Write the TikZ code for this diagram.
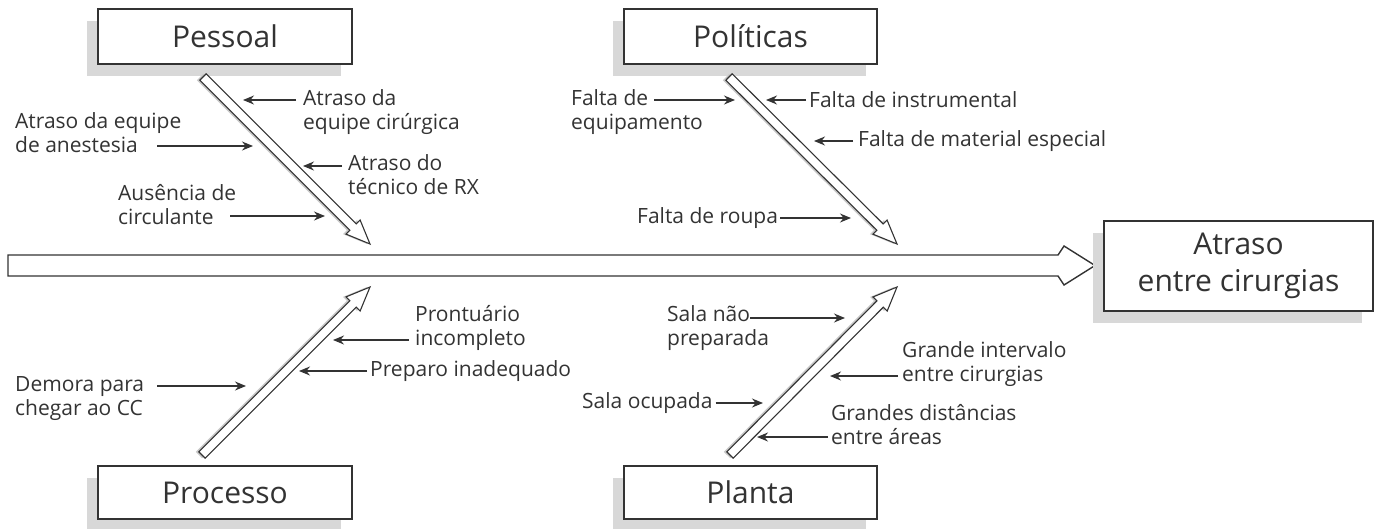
\documentclass[tikz,border=0pt]{standalone}
\usepackage{fontspec}
\setmainfont{Open Sans}
\usetikzlibrary{arrows.meta,calc,shadows}
\definecolor{ink}{HTML}{333333}
\definecolor{shade}{HTML}{D8D8D8}
\definecolor{boneshade}{HTML}{C8C8C8}
\newcommand{\bonearrow}[3]{%
  \coordinate (#1h) at ($(#3)!24pt!(#2)$);
  \coordinate (#1a) at ($(#2)!4.5pt!90:(#3)$);
  \coordinate (#1b) at ($(#1h)!4.5pt!90:(#3)$);
  \coordinate (#1c) at ($(#1h)!10pt!90:(#3)$);
  \coordinate (#1d) at ($(#1h)!10pt!-90:(#3)$);
  \coordinate (#1e) at ($(#1h)!4.5pt!-90:(#3)$);
  \coordinate (#1f) at ($(#2)!4.5pt!-90:(#3)$);
  \begin{scope}[transform canvas={xshift=-3pt}]
    \fill[boneshade] (#1a) -- (#1b) -- (#1c) -- (#3) -- (#1d) -- (#1e) -- (#1f) -- cycle;
  \end{scope}
  \draw[bonestyle] (#1a) -- (#1b) -- (#1c) -- (#3) -- (#1d) -- (#1e) -- (#1f) -- cycle;
}
\begin{document}
\begin{tikzpicture}[x=1pt,y=-1pt,
  catbox/.style={draw=ink, line width=1.4pt, fill=white, text=ink,
    font=\fontsize{30}{37}\selectfont, inner sep=0pt,
    minimum width=254pt, minimum height=55pt,
    general shadow={fill=shade, shadow xshift=-11pt, shadow yshift=-12pt}},
  lbl/.style={text=ink, font=\fontsize{21}{24}\selectfont, align=left,
    inner sep=0pt, anchor=west},
  cause/.style={-{Stealth[length=11pt,width=9pt]}, line width=1.3pt, draw=ink},
  bonestyle/.style={draw=ink, line width=1.1pt, fill=white, line join=miter},
]
\useasboundingbox (0,0) rectangle (1378,528);

% main spine
\coordinate (s1) at (8,255);
\coordinate (s2) at (1058,255);
\coordinate (s3) at (1064,246);
\coordinate (stip) at (1095,265.5);
\coordinate (s5) at (1064,285);
\coordinate (s6) at (1058,276);
\coordinate (s7) at (8,276);
\draw[bonestyle, line width=1.4pt] (s1) -- (s2) -- (s3) -- (stip) -- (s5) -- (s6) -- (s7) -- cycle;

% boxes
\node[catbox] (pessoal) at (225,36.5) {Pessoal};
\node[catbox, minimum width=253pt] (politicas) at (750.5,36.5) {Políticas};
\node[catbox, minimum height=53pt] (processo) at (225,492.5) {Processo};
\node[catbox, minimum width=253pt, minimum height=53pt] (planta) at (750.5,492.5) {Planta};
\node[catbox, minimum width=269pt, minimum height=90pt, align=center] (effect) at (1238.5,266) {Atraso\\entre cirurgias};

% bones
\coordinate (pe0) at (203,77);  \coordinate (pe1) at (370,244);
\coordinate (po0) at (729,77);  \coordinate (po1) at (897,244);
\coordinate (pr0) at (202,455); \coordinate (pr1) at (370,287);
\coordinate (pl0) at (730,455); \coordinate (pl1) at (897,287);
\bonearrow{bA}{pe0}{pe1}
\bonearrow{bB}{po0}{po1}
\bonearrow{bC}{pr0}{pr1}
\bonearrow{bD}{pl0}{pl1}

% Pessoal causes
\node[lbl] (c1) at (303,112) {Atraso da\\equipe cirúrgica};
\coordinate (c1s) at (296,100); \coordinate (c1t) at (243,100);
\draw[cause] (c1s) -- (c1t);
\node[lbl] (c2) at (15,132.5) {Atraso da equipe\\de anestesia};
\coordinate (c2s) at (157,146); \coordinate (c2t) at (253,146);
\draw[cause] (c2s) -- (c2t);
\node[lbl] (c3) at (348,174.5) {Atraso do\\técnico de RX};
\coordinate (c3s) at (342,166); \coordinate (c3t) at (303,166);
\draw[cause] (c3s) -- (c3t);
\node[lbl] (c4) at (118,205) {Ausência de\\circulante};
\coordinate (c4s) at (230,216); \coordinate (c4t) at (325,216);
\draw[cause] (c4s) -- (c4t);

% Politicas causes
\node[lbl] (c5) at (571,112) {Falta de\\equipamento};
\coordinate (c5s) at (654,100); \coordinate (c5t) at (735,100);
\draw[cause] (c5s) -- (c5t);
\node[lbl] (c6) at (809,100) {Falta de instrumental};
\coordinate (c6t) at (766,100);
\draw[cause] ([xshift=-3pt]c6.west) -- (c6t);
\node[lbl] (c7) at (858,141) {Falta de material especial};
\coordinate (c7t) at (814,141);
\draw[cause] ([xshift=-5pt]c7.west) -- (c7t);
\node[lbl] (c8) at (637,218) {Falta de roupa};
\coordinate (c8t) at (851,218);
\draw[cause] ([xshift=2pt]c8.east) -- (c8t);

% Processo causes
\node[lbl] (c9) at (415,327.5) {Prontuário\\incompleto};
\coordinate (c9s) at (409,340); \coordinate (c9t) at (333,340);
\draw[cause] (c9s) -- (c9t);
\node[lbl] (c10) at (370,371) {Preparo inadequado};
\coordinate (c10t) at (299,371);
\draw[cause] ([xshift=-3pt]c10.west) -- (c10t);
\node[lbl] (c11) at (15,399) {Demora para\\chegar ao CC};
\coordinate (c11s) at (157,386); \coordinate (c11t) at (246,386);
\draw[cause] (c11s) -- (c11t);

% Planta causes
\node[lbl] (c12) at (667,328.5) {Sala não\\preparada};
\coordinate (c12s) at (750,318); \coordinate (c12t) at (845,318);
\draw[cause] (c12s) -- (c12t);
\node[lbl] (c13) at (902,364) {Grande intervalo\\entre cirurgias};
\coordinate (c13s) at (898,376); \coordinate (c13t) at (830,376);
\draw[cause] (c13s) -- (c13t);
\node[lbl] (c14) at (582,403) {Sala ocupada};
\coordinate (c14t) at (763,403);
\draw[cause] ([xshift=3pt]c14.east) -- (c14t);
\node[lbl] (c15) at (831,424.5) {Grandes distâncias\\entre áreas};
\coordinate (c15s) at (828,437); \coordinate (c15t) at (757,437);
\draw[cause] (c15s) -- (c15t);
\end{tikzpicture}
\end{document}
